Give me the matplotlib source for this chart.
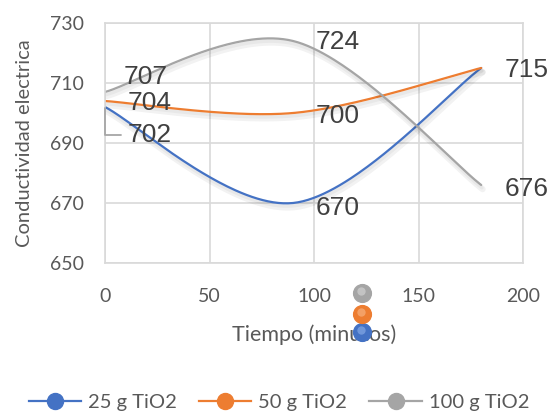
import numpy as np
import matplotlib
matplotlib.use("Agg")
import matplotlib.pyplot as plt
from matplotlib.lines import Line2D
import matplotlib.patheffects as pe
import matplotlib.transforms as mtransforms

# ---- data ----
time_min = [0, 90, 180]
series_names = ["25 g TiO2", "50 g TiO2", "100 g TiO2"]
vals_25 = [702, 670, 715]
vals_50 = [704, 700, 715]
vals_100 = [707, 724, 676]
colors = ["#4472C4", "#ED7D31", "#A5A5A5"]
hilite = ["#8FB0EA", "#F8B98A", "#D8D8D8"]
x_ticks = [0, 50, 100, 150, 200]
y_ticks = [650, 670, 690, 710, 730]
# stray markers drawn below the plot area in the original
stray_x = [123, 123, 123]
stray_y = [627, 633, 640]   # blue, orange, gray

def smooth(xs, ys, n=80):
    P = np.column_stack([xs, ys]).astype(float)
    m = len(P)
    out = []
    for i in range(m - 1):
        p0 = P[i]
        p3 = P[i + 1]
        pm = P[i - 1] if i > 0 else P[i]
        pp = P[i + 2] if i + 2 < m else P[i + 1]
        c1 = p0 + (p3 - pm) / 6.0
        c2 = p3 - (pp - p0) / 6.0
        t = np.linspace(0, 1, n)[:, None]
        seg = ((1 - t) ** 3) * p0 + 3 * ((1 - t) ** 2) * t * c1 + 3 * (1 - t) * t ** 2 * c2 + t ** 3 * p3
        out.append(seg if i == 0 else seg[1:])
    s = np.vstack(out)
    return s[:, 0], s[:, 1]

fig = plt.figure(figsize=(5.58, 4.13), dpi=100)
ax = fig.add_axes([105 / 558, 1 - 263 / 413, (523 - 105) / 558, 240 / 413])

grid_c = "#D9D9D9"
ax.set_xlim(0, 200)
ax.set_ylim(650, 730)
ax.set_xticks(x_ticks)
ax.set_yticks(y_ticks)
ax.grid(True, color=grid_c, linewidth=1.2)
ax.set_axisbelow(True)
for sp in ax.spines.values():
    sp.set_color(grid_c)
    sp.set_linewidth(1.2)
ax.tick_params(length=0, labelsize=14, labelcolor="#595959", pad=15)
for lab in ax.get_xticklabels() + ax.get_yticklabels():
    lab.set_fontfamily("Lato")
ax.tick_params(axis="x", pad=18)

shadow = [pe.SimpleLineShadow(offset=(1, -3), shadow_color="black", alpha=0.05, linewidth=4.5),
          pe.SimpleLineShadow(offset=(0.5, -2), shadow_color="black", alpha=0.04, linewidth=2.5),
          pe.Normal()]
all_vals = [vals_25, vals_50, vals_100]
for vals, c in zip(all_vals, colors):
    sx, sy = smooth(time_min, vals)
    ax.plot(sx, sy, color=c, linewidth=1.6, path_effects=shadow, solid_capstyle="round")

# data labels
lab_kw = dict(fontsize=19, color="#404040", family="Liberation Sans", va="center", ha="left",
              textcoords="offset pixels")
offsets = {
    (0, 1): (23, -5),
    (1, 0): (23, -2), (1, 1): (23, -3), (1, 2): (23, -2),
    (2, 0): (19, 15), (2, 1): (23, -1), (2, 2): (23, -4),
}
for si, vals in enumerate(all_vals):
    for pi, (xv, yv) in enumerate(zip(time_min, vals)):
        if (si, pi) not in offsets:
            continue
        dx, dy = offsets[(si, pi)]
        ax.annotate(f"{yv}", (xv, yv), xytext=(dx, dy), **lab_kw)

# 702 label with leader line
ax.annotate(f"{vals_25[0]}", (time_min[0], vals_25[0]), xytext=(23, -28),
            arrowprops=dict(arrowstyle="-", color="#A6A6A6", linewidth=1.3,
                            connectionstyle="angle,angleA=0,angleB=90,rad=0",
                            shrinkA=3, shrinkB=1),
            **lab_kw)

# stray markers (shaded spheres)
for xv, yv, c, h in zip(stray_x, stray_y, colors, hilite):
    ax.plot([xv], [yv], marker="o", markersize=12.8, color=c, markeredgecolor=c,
            clip_on=False, zorder=5)
    tr = mtransforms.offset_copy(ax.transData, fig=fig, x=-1.5, y=2.0, units="dots")
    ax.plot([xv], [yv], marker="o", markersize=6, color=h, markeredgewidth=0, alpha=0.6,
            clip_on=False, zorder=6, transform=tr)

ax.set_xlabel("Tiempo (minutos)", fontsize=15.5, color="#595959", family="Lato", labelpad=14)
ax.set_ylabel("Conductividad electrica", fontsize=14.5, color="#595959", family="Lato", labelpad=12)

handles = [Line2D([0], [0], color=c, linewidth=1.6, marker="o", markersize=11.5,
                  markerfacecolor=c, markeredgecolor=c) for c in colors]
leg = fig.legend(handles, series_names, loc="center", bbox_to_anchor=(0.5, 1 - 402 / 413),
                 ncol=3, frameon=False, handlelength=2.6, handletextpad=0.35, columnspacing=1.1,
                 prop=dict(family="Lato", size=14.5))
for t in leg.get_texts():
    t.set_color("#595959")

fig.savefig("out.png", dpi=100)
